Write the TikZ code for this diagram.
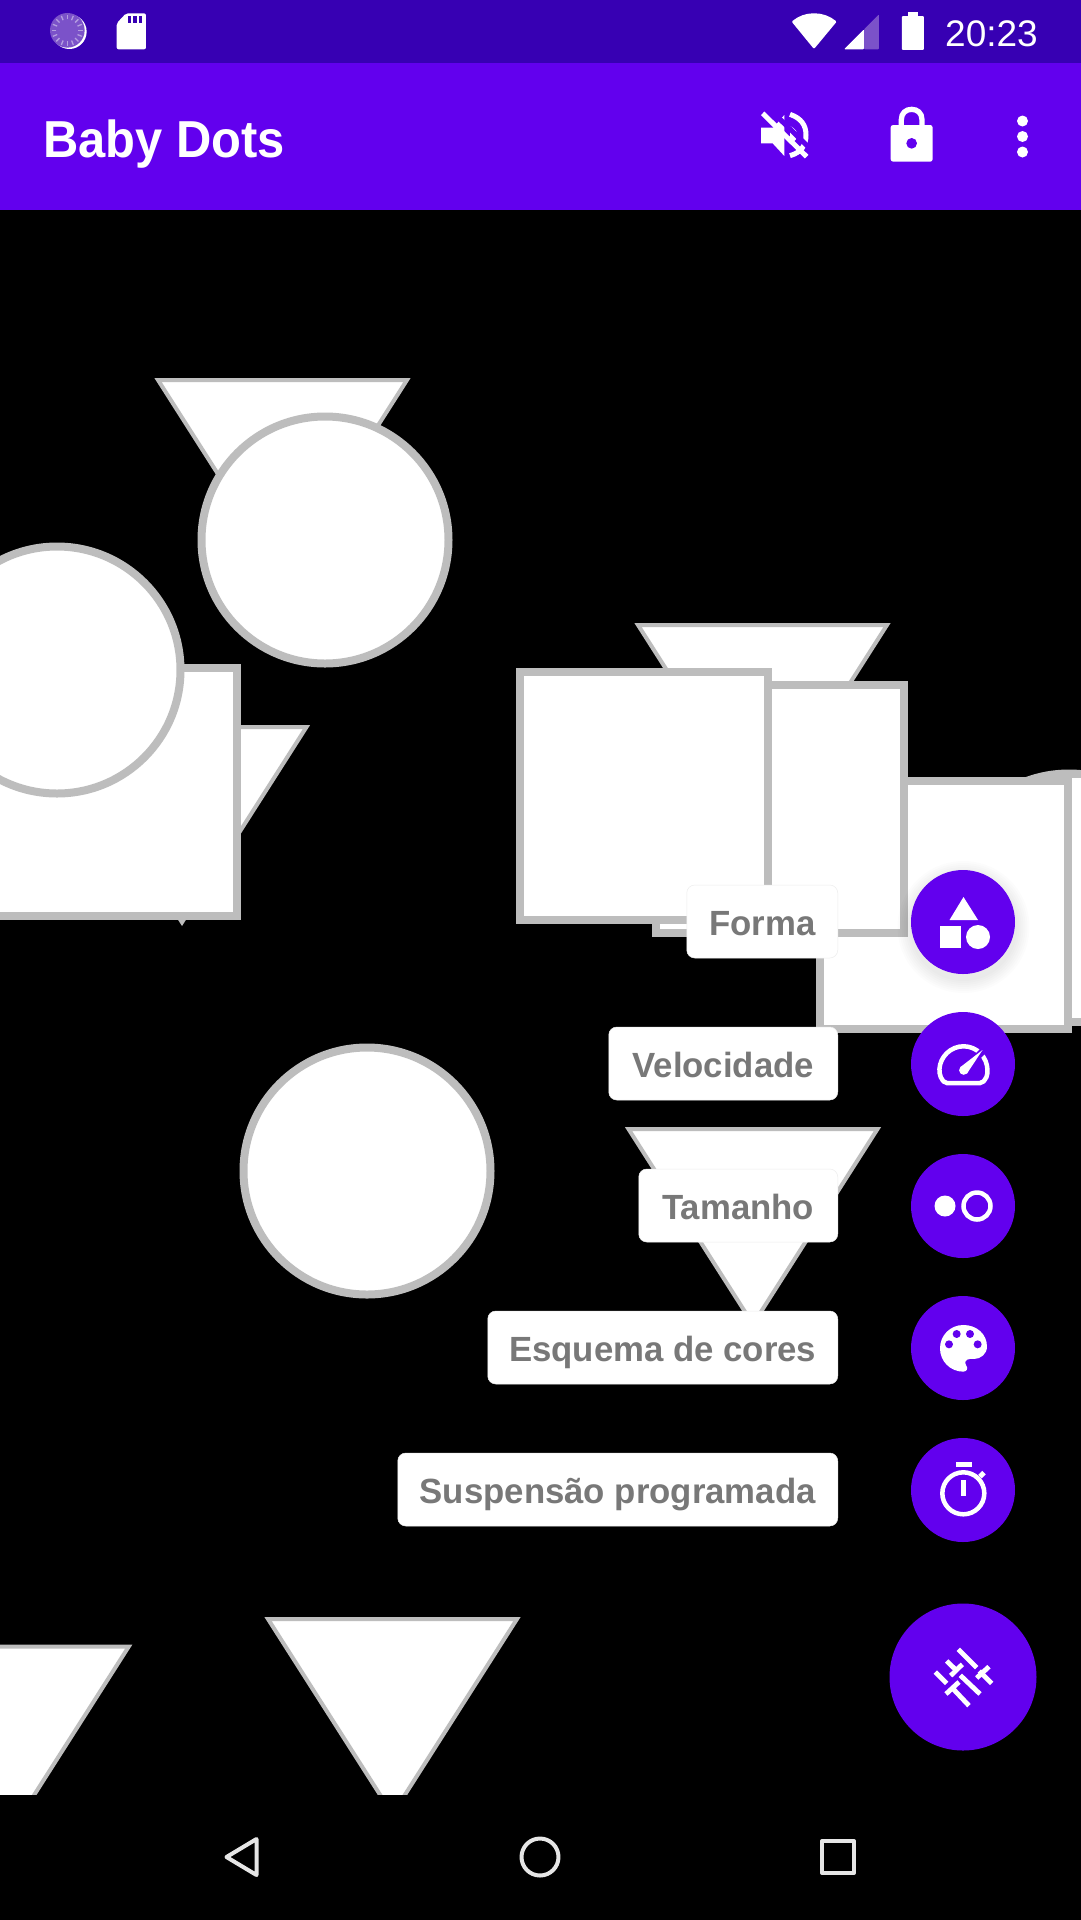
\documentclass[tikz,border=0pt]{standalone}
\usepackage{fontspec}
\setmainfont{Liberation Sans}
\newfontfamily\titlefont[FakeStretch=0.94]{Liberation Sans Bold}
\newfontfamily\labelfont[FakeStretch=0.993]{Liberation Sans Bold}
\definecolor{statusbar}{HTML}{3700B3}
\definecolor{appbar}{HTML}{6200EE}
\definecolor{dimicon}{HTML}{7B52C9}
\definecolor{tickc}{HTML}{B49EE0}
\definecolor{edgec}{HTML}{BDBDBD}
\definecolor{labeltext}{HTML}{787878}
\definecolor{navc}{HTML}{E6E6E6}
\tikzset{
  shapeline/.style={draw=edgec,fill=white,line width=8pt,miter limit=10},
  triline/.style={draw=edgec,fill=white,line width=4pt,miter limit=10},
  tiplabel/.style={draw=white!93!black,line width=.5pt,fill=white,rounded corners=8pt,minimum height=73pt,inner sep=0pt,text=labeltext,text height=27pt,text depth=0pt,font=\labelfont\fontsize{35}{40}\selectfont,anchor=east},
  fab/.style={circle,fill=appbar,minimum size=104pt,inner sep=0pt},
  bigfab/.style={circle,fill=appbar,minimum size=147pt,inner sep=0pt},
  whiteline/.style={draw=white,line width=4.5pt},
  navline/.style={draw=navc,line width=4pt,line join=round},
  zoomed/.style={x=.3333pt,y=-.3333pt}
}
\newcommand{\TriShape}[2]{\draw[triline] ({#1-124.5},{#2+2}) -- ({#1+124.5},{#2+2}) -- ({#1},{#2+197.3}) -- cycle;}
\newcommand{\SquareShape}[2]{\draw[shapeline] ({#1+4},{#2+4}) rectangle ({#1+252},{#2+252});}
\newcommand{\CircleShape}[2]{\draw[shapeline] (#1,#2) circle[radius=123.5];}
\begin{document}
\begin{tikzpicture}[x=1pt,y=-1pt]
\useasboundingbox (0,0) rectangle (1080,1920);
\fill[black] (-3,-3) rectangle (1083,1923);

% --- field of shapes
\begin{scope}
\clip (0,210) rectangle (1083,1794);
\TriShape{282.5}{378}
\CircleShape{325}{540}
\TriShape{182}{725}
\SquareShape{-15}{664}
\CircleShape{57}{670}
\TriShape{762.5}{623}
\CircleShape{1069}{897}
\SquareShape{1060}{770}
\SquareShape{816}{777}
\SquareShape{652}{681}
\SquareShape{516}{668}
\CircleShape{367}{1171}
\TriShape{753}{1127}
\TriShape{392.5}{1617}
\TriShape{4.3}{1644.5}
\end{scope}

% --- bars
\fill[statusbar] (-3,-3) rectangle (1083,63);
\fill[appbar] (-3,63) rectangle (1083,210);

% --- status icons
\begin{scope}[shift={(40,5)},zoomed]
\fill[white] (88,80) circle[radius=52];
\fill[dimicon] (82,76) circle[radius=52];
\foreach \a in {0,22.5,...,337.5}
  \draw[tickc,line width=1.3pt] ({82+33*cos(\a)},{76+33*sin(\a)}) -- ({82+47*cos(\a)},{76+47*sin(\a)});
\fill[white,rounded corners=2pt] (258,25) -- (318,25) -- (318,133) -- (230,133) -- (230,55) -- cycle;
\foreach \xx in {263,280,297}
  \fill[statusbar] (\xx,33) rectangle (\xx+10,55);
\end{scope}
\begin{scope}[shift={(780,5)},zoomed]
\fill[white,rounded corners=1pt] (102,132) -- (35,50) .. controls (55,33) and (78,25) .. (102,25) .. controls (126,25) and (150,33) .. (170,50) -- cycle;
\fill[white,rounded corners=1pt] (192,133) -- (252,73) -- (252,133) -- cycle;
\fill[dimicon,rounded corners=1pt] (252,133) -- (252,73) -- (297,28) -- (297,133) -- cycle;
\fill[white,rounded corners=1pt] (366,33) rectangle (432,135);
\fill[white] (385,20) rectangle (413,34);
\end{scope}
\node[text=white,font=\fontsize{37}{40}\selectfont,anchor=base east,inner sep=0pt] (clock) at (1038,46) {20:23};

% --- app bar
\node[text=white,font=\titlefont\fontsize{52}{60}\selectfont,anchor=base west,inner sep=0pt] (apptitle) at (43,157) {Baby Dots};
\begin{scope}[shift={(740,95)},zoomed]
\fill[white] (63,98) -- (100,98) -- (133,60) -- (133,183) -- (98,145) -- (63,145) -- cycle;
\draw[white,line width=5pt] (150,58) .. controls (185,70) and (198,92) .. (198,120) .. controls (198,150) and (185,172) .. (150,182);
\fill[white] (150,93) .. controls (165,100) and (172,110) .. (172,120) .. controls (172,130) and (165,140) .. (150,147) -- cycle;
\draw[appbar,line width=5pt] (82,36) -- (222,172);
\draw[white,line width=5pt] (68,55) -- (200,185);
\fill[white,rounded corners=2.5pt] (452,90) rectangle (578,200);
\draw[white,line width=5.3pt] (484,95) -- (484,74) .. controls (484,54) and (498,43) .. (515,43) .. controls (532,43) and (546,54) .. (546,74) -- (546,95);
\fill[appbar] (515,145) circle[radius=16];
\end{scope}
\fill[white] (1022.5,121) circle[radius=5.5] (1022.5,136.5) circle[radius=5.5] (1022.5,152) circle[radius=5.5];

% --- labels
\node[tiplabel,minimum width=151pt] (lblForma) at (838,921.5) {Forma};
\node[tiplabel,minimum width=229pt] (lblVelocidade) at (838,1063.5) {Velocidade};
\node[tiplabel,minimum width=199pt] (lblTamanho) at (838,1205.5) {Tamanho};
\node[tiplabel,minimum width=350pt] (lblEsquema) at (838,1347.5) {Esquema de cores};
\node[tiplabel,minimum width=440pt] (lblSuspensao) at (838,1489.5) {Suspensão programada};

% --- shadow of the first button
\foreach \r in {66,64,62,60,58,56,54}
  \fill[black,opacity=.012] (963.5,927) circle[radius=\r];

% --- buttons
\node[fab] (fabForma) at (963,922) {};
\node[fab] (fabVelocidade) at (963,1064) {};
\node[fab] (fabTamanho) at (963,1206) {};
\node[fab] (fabEsquema) at (963,1348) {};
\node[fab] (fabSuspensao) at (963,1490) {};
\node[bigfab] (fabMain) at (963,1677) {};

% shape icon
\fill[white] (963.5,897) -- (978,920) -- (949.5,920) -- cycle;
\fill[white] (940,926) rectangle (961,948);
\fill[white] (978,937) circle[radius=12];

% speed icon
\draw[whiteline,rounded corners=2pt] (945,1083) -- (941.5,1079) arc[start angle=158,end angle=382,radius=23.8] -- (982,1083) -- cycle;
\draw[appbar,line width=7pt] (966,1068) -- (986,1048);
\fill[white] (982.5,1050) -- (967,1073.5) -- (960.5,1067) -- cycle;
\fill[white] (963.7,1070.2) circle[radius=4.6];

% size icon
\fill[white] (945,1206) circle[radius=10.5];
\draw[whiteline] (977,1206) circle[radius=13.5];

% palette icon
\begin{scope}[shift={(860,1130)},zoomed]
\fill[white] (310,585) .. controls (350,585) and (381,612) .. (381,650)
  .. controls (381,672) and (362,687) .. (342,687)
  -- (330,687) .. controls (318,687) and (312,697) .. (318,705)
  .. controls (326,715) and (320,725) .. (310,725)
  .. controls (271,725) and (240,694) .. (240,655)
  .. controls (240,616) and (271,585) .. (310,585) -- cycle;
\fill[appbar] (290,612) circle[radius=12] (330,612) circle[radius=12] (267,643) circle[radius=12] (353,643) circle[radius=12];
% timer icon
\draw[whiteline] (310,1090) circle[radius=63];
\fill[white] (287,995) rectangle (335,1012);
\fill[white] (303,1050) rectangle (318,1098);
\draw[white,line width=5pt] (360,1040) -- (372,1028);
\end{scope}

% tune icon
\begin{scope}[shift={(860,1560)},zoomed]
\foreach \ax/\ay/\bx/\by in {295/268/350/323, 260/303/290/332, 272/347/307/313, 226/336/260/370, 301/346/360/402, 350/354/387/320, 358/333/395/370, 258/402/297/366, 276/383/327/437}
  \draw[white,line width=4.8pt] (\ax,\ay) -- (\bx,\by);
\end{scope}

% --- navigation
\draw[navline] (226.5,1857) -- (256.5,1839) -- (256.5,1875) -- cycle;
\draw[navline] (540,1857) circle[radius=18.5];
\draw[navline] (822,1841) rectangle (854,1873);
\end{tikzpicture}
\end{document}
